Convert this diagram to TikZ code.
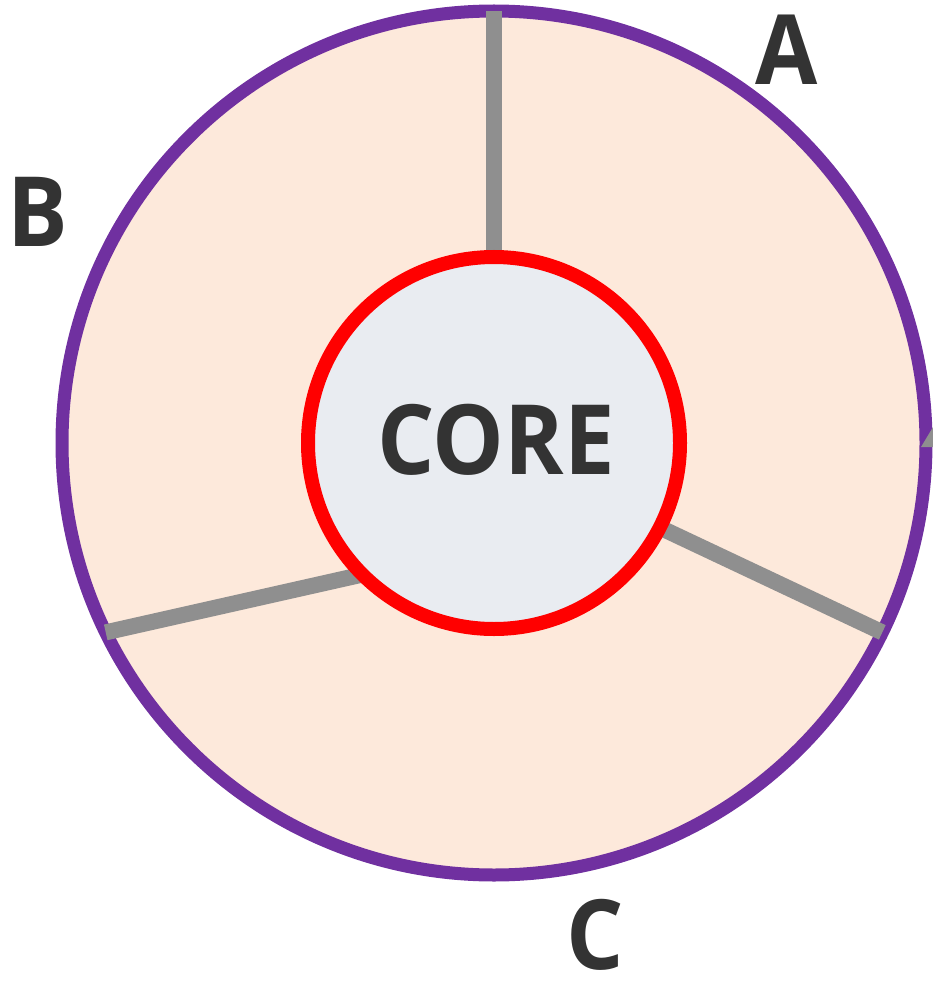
\documentclass[tikz,border=0pt]{standalone}
\usepackage{fontspec}
\usepackage{graphicx}
\setmainfont{Open Sans}
\newcommand{\narrowlbl}[1]{\scalebox{0.93}[1]{#1}}
\begin{document}
\begin{tikzpicture}[x=1pt,y=-1pt,
  ring/.style={circle,inner sep=0pt,outer sep=0pt},
  spokeline/.style={draw=spokegrey,line width=16pt},
  lbl/.style={text=labeltext,font=\fontsize{97}{100}\selectfont\bfseries,inner sep=0pt}]
\definecolor{ringpurple}{HTML}{7030A0}
\definecolor{peach}{HTML}{FDE9DB}
\definecolor{coregrey}{HTML}{E9ECF1}
\definecolor{spokegrey}{HTML}{8F8F8F}
\definecolor{labeltext}{HTML}{333333}
\useasboundingbox (0,0) rectangle (933,984);
\node[ring,fill=peach,draw=ringpurple,line width=13pt,minimum size=864pt] (outer) at (494,443) {};
\node[ring,minimum size=372pt] (innerpos) at (494,443) {};
\path[spokeline] (innerpos.90) -- (outer.90);
\path[spokeline] (innerpos.-27) -- (outer.-26.8);
\path[spokeline] (innerpos.225) -- (outer.206.6);
\node[ring,fill=coregrey,draw=red,line width=14pt,minimum size=372pt] (inner) at (494,443) {};
\node[lbl] (core) at (496,440) {\narrowlbl{CORE}};
\node[lbl] (a) at (787,50) {\narrowlbl{A}};
\node[lbl] (b) at (38,212) {\narrowlbl{B}};
\node[lbl] (c) at (595,935) {\narrowlbl{C}};
\fill[spokegrey] (921,447) -- (933,427) -- (933,447) -- cycle;
\end{tikzpicture}
\end{document}
